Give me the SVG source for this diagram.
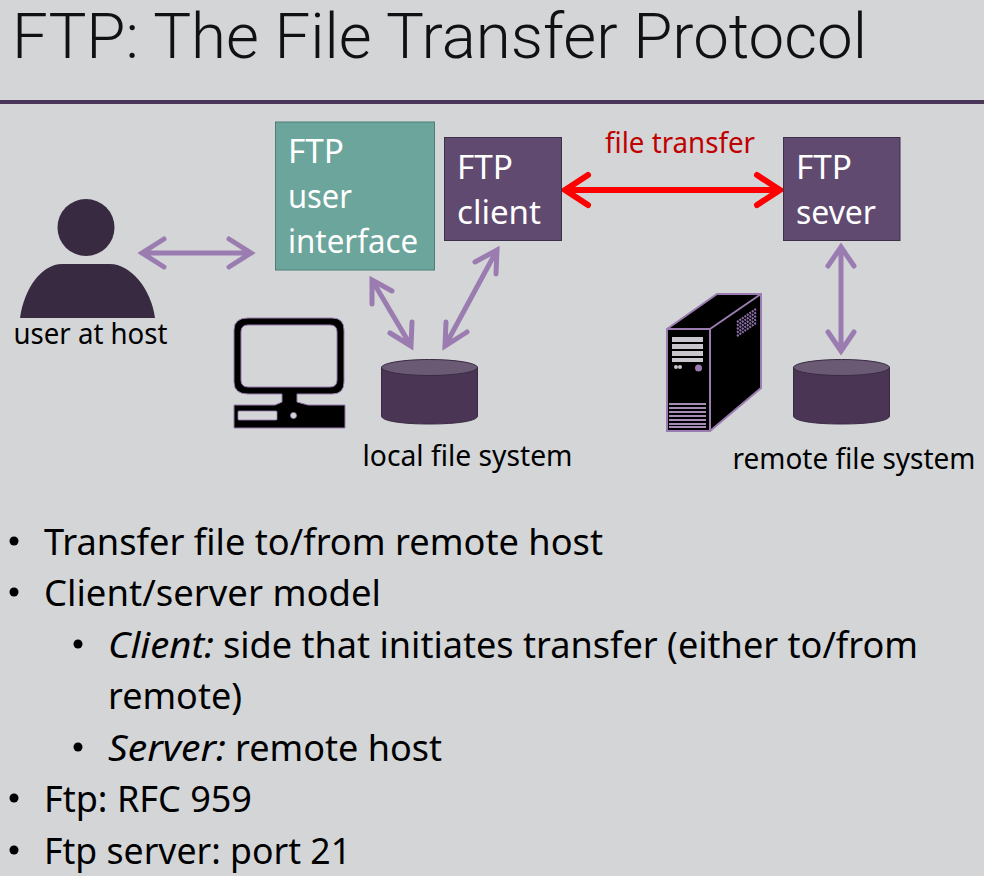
<svg xmlns="http://www.w3.org/2000/svg" width="984" height="876" viewBox="0 0 984 876">
<style>
text{font-family:"Noto Sans","Open Sans","Liberation Sans",sans-serif;fill:#000}
.title{font-family:Roboto,"Noto Sans",sans-serif;font-size:63px;fill:#111;font-weight:300}
.lab{font-size:28.5px}
.bul{font-size:37px}
.it{font-size:37px;font-style:italic}
.box{font-size:32px;fill:#fff}
.pb{fill:#604a70;stroke:#3f3049;stroke-width:1}
.ar{fill:none;stroke:#9b7cb0;stroke-width:5;stroke-linecap:round;stroke-linejoin:miter}
.red{fill:none;stroke:#f00;stroke-width:6;stroke-linecap:round}
.grill{fill:none;stroke:#8a6fa8;stroke-width:2.2;stroke-dasharray:2 1}
</style>
<rect width="984" height="876" fill="#d3d5d7"/>
<text class="title" x="12" y="58" textLength="855" lengthAdjust="spacingAndGlyphs">FTP: The File Transfer Protocol</text>
<rect x="0" y="100" width="984" height="4" fill="#4a3658"/>
<g id="connectors">
<path class="ar" d="M142 253H251M164 239L142 253L164 267M229 239L251 253L229 267"/>
<path class="ar" d="M372 280L411 346M372 304L372 280L392 291M412 322L411 346L390 333"/>
<path class="ar" d="M497 250L445 346M475 262L497 250L496 274M446 322L445 346L467 332"/>
<path class="ar" d="M841 247V351M828 266L841 247L854 266M828 332L841 351L854 332"/>
<path class="red" d="M565 190H780M588 175L565 190L588 205M757 175L780 190L757 205"/>
</g>
<g id="user">
<circle cx="86" cy="227.500" r="28.500" fill="#382a40"/>
<path d="M20 318C24 288 42 264 62 264H110C130 264 151 288 155 318Z" fill="#382a40"/>
<text class="lab" x="13.500" y="344" textLength="154" lengthAdjust="spacingAndGlyphs">user at host</text>
</g>
<g id="ftp-ui">
<rect x="275.500" y="122" width="159" height="148" fill="#6ba59b" stroke="#4d7f76"/>
<text class="box" x="288" y="163" textLength="56" lengthAdjust="spacingAndGlyphs">FTP</text>
<text class="box" x="288" y="208" textLength="64" lengthAdjust="spacingAndGlyphs">user</text>
<text class="box" x="288" y="253" textLength="130" lengthAdjust="spacingAndGlyphs">interface</text>
</g>
<g id="ftp-client">
<rect class="pb" x="444.500" y="137.500" width="117" height="103"/>
<text class="box" x="457" y="179" textLength="56" lengthAdjust="spacingAndGlyphs">FTP</text>
<text class="box" x="457" y="224" textLength="84" lengthAdjust="spacingAndGlyphs">client</text>
</g>
<g id="ftp-server">
<rect class="pb" x="783.500" y="137.500" width="116.500" height="103"/>
<text class="box" x="796" y="179" textLength="56" lengthAdjust="spacingAndGlyphs">FTP</text>
<text class="box" x="796" y="224" textLength="80" lengthAdjust="spacingAndGlyphs">sever</text>
</g>
<text id="file-transfer" x="605" y="153" font-size="28.500" style="fill:#c00000" textLength="150" lengthAdjust="spacingAndGlyphs">file transfer</text>
<g id="desktop">
<path fill-rule="evenodd" d="M248 318H332Q344 318 344 330V382Q344 394 332 394H297V402L308 405H345V428H234V405H275L282 402V394H248Q234 394 234 382V330Q234 318 248 318ZM248 325Q241 325 241 332V380Q241 387 248 387H330Q337 387 337 380V332Q337 325 330 325Z" fill="#000" stroke="#9b7cb0" stroke-width="1"/>
<rect x="238" y="411" width="39" height="9" rx="1" fill="#d3d5d7" stroke="#9b7cb0" stroke-width="0.800"/>
<circle cx="293.500" cy="415.500" r="3" fill="#d3d5d7" stroke="#9b7cb0" stroke-width="0.800"/>
</g>
<g id="local-fs">
<path d="M381.500 367V416C381.500 421 402 424 429.500 424S477.500 421 477.500 416V367Z" fill="#4a3654" stroke="#3a2a44"/>
<ellipse cx="429.500" cy="367.500" rx="48" ry="8" fill="#6b5a74" stroke="#3a2a44"/>
<text class="lab" x="362.500" y="466" textLength="210" lengthAdjust="spacingAndGlyphs">local file system</text>
</g>
<g id="tower">
<path d="M667 329L717 294H761V388L710 431H667Z" fill="#000" stroke="#9b7cb0" stroke-width="2"/>
<path d="M667 329H710V431M710 329L761 294" fill="none" stroke="#9b7cb0" stroke-width="2"/>
<path d="M672 337H703V342H672ZM672 344H703V349H672ZM672 351H703V356H672ZM672 358H703V362H672Z" fill="#c9c5cc"/>
<circle cx="676" cy="367" r="2" fill="#c9c5cc"/><circle cx="680" cy="367" r="2" fill="#c9c5cc"/>
<circle cx="698.500" cy="368" r="3.500" fill="#9b7cb0"/>
<path d="M669 404H706M669 408H706M669 412H706M669 416H706M669 420H706M669 424H706M669 427H706" stroke="#a58db8" stroke-width="2" fill="none"/>
<path class="grill" d="M737 322L756 309M737 325.500L756 312.500M737 329L756 316M737 332.500L756 319.500M737 336L756 323"/>
</g>
<g id="remote-fs">
<path d="M793.500 367V416C793.500 421 814 424 841.500 424S889.500 421 889.500 416V367Z" fill="#4a3654" stroke="#3a2a44"/>
<ellipse cx="841.500" cy="367.500" rx="48" ry="8" fill="#6b5a74" stroke="#3a2a44"/>
<text class="lab" x="732.500" y="469" textLength="243" lengthAdjust="spacingAndGlyphs">remote file system</text>
</g>
<g id="bullets">
<circle cx="14" cy="541" r="4.500"/><text class="bul" x="44" y="555" textLength="559" lengthAdjust="spacingAndGlyphs">Transfer file to/from remote host</text>
<circle cx="14" cy="592" r="4.500"/><text class="bul" x="44" y="606" textLength="337" lengthAdjust="spacingAndGlyphs">Client/server model</text>
<circle cx="78" cy="644" r="4.500"/><text class="it" x="108" y="658" textLength="106" lengthAdjust="spacingAndGlyphs">Client:</text><text class="bul" x="223" y="658" textLength="695" lengthAdjust="spacingAndGlyphs">side that initiates transfer (either to/from</text>
<text class="bul" x="108" y="709" textLength="134" lengthAdjust="spacingAndGlyphs">remote)</text>
<circle cx="78" cy="747" r="4.500"/><text class="it" x="108" y="761" textLength="118" lengthAdjust="spacingAndGlyphs">Server:</text><text class="bul" x="235" y="761" textLength="207" lengthAdjust="spacingAndGlyphs">remote host</text>
<circle cx="14" cy="798" r="4.500"/><text class="bul" x="44" y="812" textLength="208" lengthAdjust="spacingAndGlyphs">Ftp: RFC 959</text>
<circle cx="14" cy="850" r="4.500"/><text class="bul" x="44" y="864" textLength="307" lengthAdjust="spacingAndGlyphs">Ftp server: port 21</text>
</g>
</svg>
